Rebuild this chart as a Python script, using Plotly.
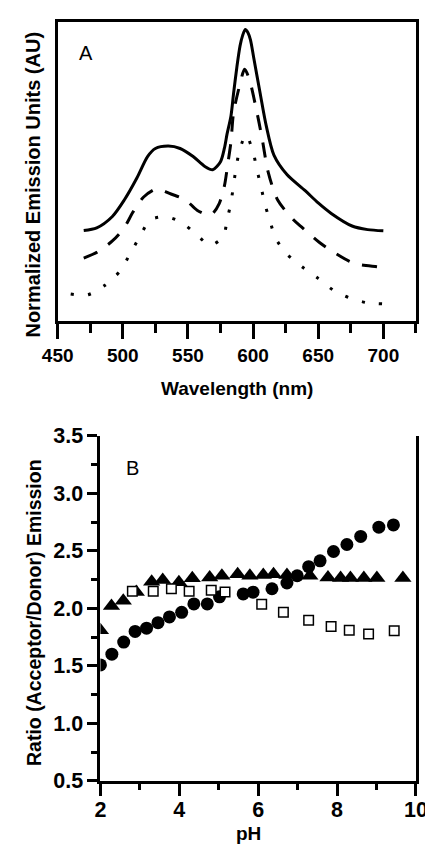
import plotly.graph_objects as go

# ---------------- Panel A: emission spectra ----------------
wl_solid = [470, 480, 492, 501, 511, 519, 525, 535, 544, 554, 563, 569, 575, 578, 580, 583, 585, 587.5,
            590, 592, 594, 596, 598, 600.5, 605.5, 610, 616, 626, 640, 650, 660, 676, 688, 700]
em_solid = [0.303, 0.312, 0.350, 0.404, 0.480, 0.550, 0.577, 0.585, 0.577, 0.550, 0.517, 0.506, 0.533, 0.578,
            0.625, 0.685, 0.760, 0.847, 0.920, 0.955, 0.975, 0.965, 0.940, 0.880, 0.760, 0.655, 0.555, 0.490,
            0.436, 0.395, 0.360, 0.318, 0.306, 0.302]

wl_dash = [470, 480, 492, 501, 508, 516, 526, 537, 548, 557, 566, 569, 574, 578, 580.5, 583, 585, 590,
           593.5, 597, 602, 607, 611.5, 619, 631, 638, 651, 661, 674, 682, 695, 700]
em_dash = [0.211, 0.230, 0.268, 0.312, 0.366, 0.415, 0.442, 0.425, 0.406, 0.371, 0.355, 0.360, 0.393, 0.452,
           0.523, 0.598, 0.696, 0.793, 0.842, 0.810, 0.718, 0.609, 0.500, 0.404, 0.339, 0.312, 0.263, 0.233,
           0.200, 0.189, 0.182, 0.179]

wl_dot = [460, 473, 486, 498, 505.5, 513, 521, 533, 545, 556, 567, 577, 580, 583, 585, 587, 589.5, 594.5,
          600, 603, 606, 609, 613, 617.5, 626, 637.5, 650, 661.5, 674, 687, 700]
em_dot = [0.091, 0.088, 0.119, 0.168, 0.225, 0.282, 0.338, 0.349, 0.330, 0.292, 0.254, 0.282, 0.338, 0.396,
          0.455, 0.513, 0.568, 0.623, 0.565, 0.506, 0.451, 0.393, 0.334, 0.276, 0.224, 0.182, 0.143, 0.104,
          0.078, 0.062, 0.058]

# ---------------- Panel B: ratio vs pH ----------------
ph_circle = [2.0, 2.29, 2.59, 2.88, 3.17, 3.46, 3.75, 4.06, 4.37, 4.71, 5.02, 5.62, 5.87, 6.35, 6.73, 6.99,
             7.28, 7.57, 7.91, 8.25, 8.60, 9.06, 9.43]
ratio_circle = [1.508, 1.601, 1.706, 1.799, 1.827, 1.875, 1.925, 1.965, 2.038, 2.038, 2.100, 2.125, 2.140,
                2.170, 2.220, 2.283, 2.362, 2.413, 2.494, 2.555, 2.625, 2.706, 2.725]

ph_triangle = [2.0, 2.28, 2.58, 2.91, 3.30, 3.58, 3.99, 4.33, 4.77, 5.08, 5.48, 5.79, 6.13, 6.39, 6.73,
               7.31, 7.77, 8.09, 8.34, 8.68, 9.01, 9.67]
ratio_triangle = [1.81, 2.021, 2.066, 2.142, 2.232, 2.246, 2.227, 2.261, 2.269, 2.283, 2.297, 2.283, 2.289,
                  2.297, 2.289, 2.283, 2.269, 2.263, 2.263, 2.263, 2.263, 2.263]

ph_square = [2.81, 3.34, 3.80, 4.25, 4.81, 5.16, 6.09, 6.64, 7.28, 7.85, 8.31, 8.80, 9.45]
ratio_square = [2.148, 2.148, 2.170, 2.148, 2.156, 2.142, 2.035, 1.965, 1.897, 1.841, 1.810, 1.776, 1.804]

W, H = 433, 847
FONT = "Liberation Sans"


def px_x(p):
    return p / W


def px_y(p):
    return 1 - p / H


fig = go.Figure()

fig.add_trace(go.Scatter(x=wl_solid, y=em_solid, mode="lines", xaxis="x", yaxis="y",
                         line=dict(color="black", width=3, shape="spline", smoothing=0.8)))
fig.add_trace(go.Scatter(x=wl_dash, y=em_dash, mode="lines", xaxis="x", yaxis="y",
                         line=dict(color="black", width=3, shape="spline", smoothing=0.8, dash="15px,13px")))
fig.add_trace(go.Scatter(x=wl_dot, y=em_dot, mode="lines", xaxis="x", yaxis="y",
                         line=dict(color="black", width=3, shape="spline", smoothing=0.8, dash="3px,14.5px")))

fig.add_trace(go.Scatter(x=ph_triangle, y=ratio_triangle, mode="markers", xaxis="x2", yaxis="y2",
                         marker=dict(symbol="triangle-up", size=15, color="black")))
fig.add_trace(go.Scatter(x=ph_circle, y=ratio_circle, mode="markers", xaxis="x2", yaxis="y2",
                         marker=dict(symbol="circle", size=13, color="black")))
fig.add_trace(go.Scatter(x=ph_square, y=ratio_square, mode="markers", xaxis="x2", yaxis="y2",
                         marker=dict(symbol="square", size=9.5, color="white",
                                     line=dict(color="black", width=1.5))))

tick_a = dict(family=FONT, size=19, color="black", weight="bold")
tick_b = dict(family=FONT, size=21.5, color="black", weight="bold")

fig.update_layout(
    width=W, height=H,
    margin=dict(l=0, r=0, t=0, b=0),
    paper_bgcolor="white", plot_bgcolor="white",
    showlegend=False,
    xaxis=dict(domain=[px_x(36), px_x(419)], anchor="y", range=[450, 725],
               showline=True, linecolor="black", linewidth=3, mirror=True,
               ticks="outside", ticklen=15, tickwidth=3, tickcolor="black",
               tick0=450, dtick=50, tickfont=tick_a,
               minor=dict(ticks="outside", dtick=25, tick0=450, ticklen=9, tickwidth=3, tickcolor="black"),
               showgrid=False, zeroline=False),
    yaxis=dict(domain=[px_y(311), px_y(3)], anchor="x", range=[0, 1],
               showline=True, linecolor="black", linewidth=3, mirror=True,
               ticks="", showticklabels=False, showgrid=False, zeroline=False),
    xaxis2=dict(domain=[px_x(81.7), px_x(419)], anchor="y2", range=[2, 10],
                showline=True, linecolor="black", linewidth=3, mirror=False,
                ticks="outside", ticklen=12, tickwidth=3, tickcolor="black",
                tick0=2, dtick=2, tickfont=tick_b, ticklabelstandoff=-5,
                minor=dict(ticks="outside", dtick=1, ticklen=6, tickwidth=3, tickcolor="black"),
                showgrid=False, zeroline=False),
    yaxis2=dict(domain=[px_y(784), px_y(429)], anchor="x2", range=[0.5, 3.5],
                showline=True, linecolor="black", linewidth=3, mirror=True,
                ticks="outside", ticklen=10, tickwidth=3, tickcolor="black",
                tick0=0.5, dtick=0.5, tickformat=".1f", tickfont=tick_b,
                minor=dict(ticks="outside", dtick=0.25, ticklen=6, tickwidth=3, tickcolor="black"),
                showgrid=False, zeroline=False),
)

title_font = dict(family=FONT, size=20, color="black", weight="bold")
label_font = dict(family=FONT, size=20, color="black")

annots = [
    dict(text="Wavelength (nm)", x=px_x(228), y=px_y(380), font=dict(family=FONT, size=19, color="black", weight="bold")),
    dict(text="Normalized Emission Units (AU)", x=px_x(10), y=px_y(170), textangle=-90, font=title_font),
    dict(text="pH", x=px_x(240), y=px_y(838), font=dict(family=FONT, size=19, color="black", weight="bold")),
    dict(text="Ratio (Acceptor/Donor) Emission", x=px_x(10), y=px_y(611), textangle=-90,
         font=dict(family=FONT, size=19.5, color="black", weight="bold")),
    dict(text="A", x=px_x(66), y=px_y(35.5), font=label_font),
    dict(text="B", x=px_x(116), y=px_y(462.5), font=label_font),
]
for a in annots:
    fig.add_annotation(xref="paper", yref="paper", showarrow=False, xanchor="center", yanchor="middle", **a)

fig.write_html("out.html")
